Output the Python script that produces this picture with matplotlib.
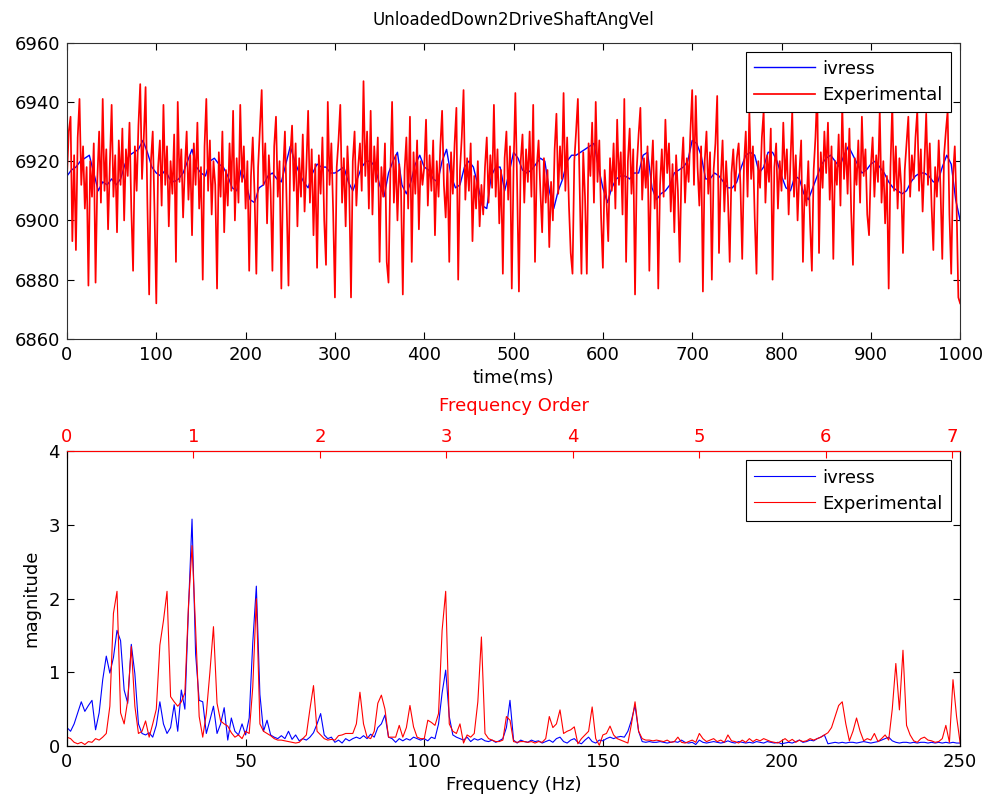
import matplotlib
matplotlib.use("Agg")
import matplotlib.pyplot as plt
import numpy as np

plt.rcParams["font.family"] = ["DejaVu Sans"]
plt.rcParams["font.size"] = 13

TITLE = "UnloadedDown2DriveShaftAngVel"

# time signal, experimental every 2 ms (0..1000 ms)
exp_step_ms = 2
exp_speed = [
    6915, 6930, 6935, 6893, 6922, 6890, 6928, 6941, 6912, 6925, 6904, 6918, 6878, 6920, 6908, 6926, 6879, 6914, 6930, 6906, 6941, 6910, 6924, 6897, 6919,
    6939, 6908, 6922, 6896, 6927, 6912, 6931, 6900, 6924, 6915, 6933, 6904, 6883, 6925, 6910, 6932, 6946, 6914, 6928, 6945, 6906, 6875, 6920, 6930, 6903,
    6872, 6918, 6927, 6905, 6939, 6912, 6925, 6898, 6920, 6909, 6929, 6886, 6940, 6913, 6924, 6901, 6918, 6930, 6907, 6922, 6895, 6926, 6912, 6933, 6904,
    6918, 6880, 6925, 6941, 6910, 6927, 6902, 6920, 6912, 6877, 6923, 6908, 6930, 6896, 6917, 6905, 6926, 6910, 6937, 6900, 6921, 6906, 6939, 6913, 6925,
    6904, 6920, 6883, 6915, 6928, 6909, 6882, 6918, 6931, 6944, 6912, 6926, 6899, 6922, 6910, 6883, 6925, 6935, 6908, 6920, 6877, 6916, 6930, 6905, 6878,
    6922, 6932, 6910, 6926, 6898, 6921, 6908, 6929, 6903, 6918, 6937, 6906, 6924, 6895, 6919, 6884, 6922, 6909, 6928, 6900, 6885, 6940, 6912, 6926, 6903,
    6874, 6918, 6927, 6939, 6906, 6921, 6898, 6925, 6911, 6874, 6920, 6930, 6905, 6918, 6926, 6910, 6947, 6915, 6930, 6904, 6937, 6902, 6925, 6913, 6928,
    6886, 6918, 6908, 6926, 6886, 6879, 6915, 6940, 6906, 6922, 6900, 6919, 6910, 6875, 6917, 6928, 6904, 6935, 6886, 6923, 6909, 6927, 6897, 6920, 6912,
    6918, 6934, 6905, 6922, 6910, 6927, 6895, 6920, 6908, 6925, 6937, 6912, 6901, 6919, 6886, 6923, 6909, 6926, 6938, 6880, 6917, 6928, 6944, 6907, 6921,
    6910, 6926, 6893, 6915, 6904, 6920, 6898, 6912, 6902, 6918, 6928, 6906, 6922, 6911, 6939, 6908, 6924, 6899, 6917, 6882, 6921, 6930, 6907, 6925, 6877,
    6918, 6943, 6912, 6876, 6920, 6929, 6906, 6924, 6913, 6930, 6908, 6939, 6886, 6918, 6927, 6910, 6896, 6921, 6906, 6917, 6891, 6913, 6900, 6924, 6936,
    6909, 6925, 6914, 6943, 6910, 6928, 6905, 6889, 6882, 6920, 6930, 6941, 6912, 6882, 6923, 6908, 6882, 6926, 6915, 6933, 6906, 6940, 6913, 6927, 6901,
    6884, 6917, 6907, 6893, 6921, 6910, 6926, 6904, 6934, 6912, 6923, 6902, 6941, 6886, 6920, 6931, 6909, 6924, 6875, 6918, 6929, 6938, 6907, 6921, 6911,
    6925, 6883, 6915, 6927, 6904, 6920, 6877, 6912, 6924, 6908, 6934, 6916, 6926, 6903, 6919, 6896, 6922, 6910, 6886, 6917, 6928, 6906, 6921, 6913, 6930,
    6944, 6912, 6942, 6918, 6905, 6925, 6876, 6920, 6930, 6909, 6923, 6880, 6917, 6926, 6942, 6889, 6914, 6927, 6903, 6920, 6908, 6886, 6916, 6924, 6910,
    6921, 6926, 6912, 6887, 6919, 6930, 6908, 6937, 6914, 6925, 6901, 6882, 6920, 6911, 6928, 6937, 6906, 6922, 6913, 6931, 6880, 6918, 6926, 6904, 6920,
    6910, 6933, 6914, 6924, 6902, 6919, 6937, 6908, 6922, 6900, 6916, 6927, 6886, 6912, 6905, 6920, 6899, 6883, 6917, 6928, 6944, 6889, 6923, 6911, 6930,
    6916, 6933, 6907, 6925, 6887, 6920, 6912, 6929, 6905, 6939, 6914, 6926, 6909, 6931, 6903, 6885, 6921, 6912, 6927, 6906, 6935, 6915, 6924, 6902, 6895,
    6918, 6928, 6908, 6922, 6913, 6937, 6906, 6920, 6899, 6915, 6877, 6918, 6939, 6910, 6925, 6904, 6921, 6912, 6889, 6917, 6926, 6935, 6908, 6922, 6914,
    6928, 6937, 6910, 6924, 6903, 6919, 6936, 6912, 6926, 6905, 6890, 6918, 6908, 6927, 6911, 6887, 6922, 6930, 6937, 6902, 6882, 6915, 6925, 6905, 6874,
    6872,
]

# simulated (ivress) every 5 ms
sim_step_ms = 5
sim_speed = [
    6915, 6917, 6918, 6920, 6921, 6922, 6916, 6910, 6913, 6912,
    6914, 6912, 6914, 6919, 6922, 6923, 6924, 6927, 6923, 6918,
    6916, 6915, 6917, 6914, 6913, 6914, 6916, 6920, 6924, 6918,
    6916, 6915, 6920, 6921, 6919, 6918, 6915, 6911, 6910, 6917,
    6913, 6907, 6906, 6911, 6912, 6915, 6916, 6914, 6913, 6919,
    6925, 6920, 6916, 6913, 6911, 6916, 6919, 6918, 6918, 6916,
    6916, 6917, 6918, 6913, 6910, 6914, 6918, 6920, 6920, 6918,
    6912, 6908, 6916, 6920, 6923, 6912, 6909, 6913, 6919, 6922,
    6918, 6917, 6914, 6913, 6920, 6924, 6915, 6911, 6912, 6918,
    6920, 6918, 6912, 6905, 6904, 6915, 6918, 6918, 6910, 6916,
    6923, 6921, 6917, 6916, 6917, 6919, 6921, 6920, 6910, 6904,
    6910, 6914, 6920, 6922, 6922, 6923, 6924, 6925, 6926, 6918,
    6911, 6906, 6911, 6914, 6915, 6915, 6914, 6916, 6916, 6922,
    6923, 6911, 6907, 6909, 6910, 6912, 6916, 6917, 6918, 6920,
    6927, 6926, 6922, 6914, 6914, 6916, 6915, 6913, 6911, 6911,
    6913, 6918, 6922, 6923, 6922, 6916, 6918, 6923, 6923, 6920,
    6915, 6911, 6910, 6915, 6914, 6909, 6907, 6911, 6915, 6919,
    6921, 6922, 6920, 6918, 6922, 6925, 6922, 6919, 6916, 6917,
    6919, 6920, 6918, 6916, 6913, 6911, 6910, 6909, 6910, 6913,
    6915, 6916, 6916, 6915, 6913, 6913, 6918, 6922, 6919, 6907,
    6900,
]

# spectra, 1 Hz bins 0..250 Hz
order_hz = 35.4  # Hz per engine order
sim_mag = [
    0.25, 0.2, 0.3, 0.45, 0.6, 0.47, 0.55, 0.62, 0.22, 0.45,
    0.9, 1.22, 0.99, 1.2, 1.57, 1.43, 0.76, 0.58, 1.38, 0.98,
    0.3, 0.17, 0.15, 0.18, 0.12, 0.28, 0.6, 0.3, 0.17, 0.25,
    0.56, 0.2, 0.76, 0.5, 1.86, 3.08, 1.25, 0.62, 0.6, 0.17,
    0.35, 0.54, 0.17, 0.3, 0.52, 0.08, 0.38, 0.2, 0.15, 0.3,
    0.15, 0.38, 1.4, 2.17, 0.7, 0.2, 0.35, 0.15, 0.12, 0.1,
    0.14, 0.1, 0.2, 0.09, 0.15, 0.07, 0.1, 0.08, 0.12, 0.18,
    0.3, 0.44, 0.15, 0.1, 0.12, 0.05, 0.08, 0.04, 0.1, 0.07,
    0.1, 0.12, 0.1, 0.14, 0.1, 0.16, 0.12, 0.25, 0.3, 0.42,
    0.12, 0.1, 0.05, 0.1, 0.07, 0.1, 0.08, 0.12, 0.1, 0.08,
    0.1, 0.07, 0.12, 0.1, 0.3, 0.72, 1.03, 0.4, 0.15, 0.12,
    0.1, 0.08, 0.12, 0.06, 0.1, 0.08, 0.1, 0.07, 0.06, 0.08,
    0.05, 0.07, 0.1, 0.25, 0.62, 0.08, 0.04, 0.08, 0.06, 0.05,
    0.08, 0.06, 0.07, 0.04, 0.06, 0.08, 0.05, 0.1, 0.12, 0.06,
    0.04, 0.08, 0.1, 0.05, 0.03, 0.08, 0.12, 0.06, 0.04, 0.08,
    0.07, 0.1, 0.12, 0.1, 0.12, 0.13, 0.12, 0.2, 0.35, 0.55,
    0.2, 0.06, 0.05, 0.06, 0.05, 0.05, 0.06, 0.05, 0.04, 0.05,
    0.06, 0.05, 0.08, 0.05, 0.04, 0.05, 0.02, 0.08, 0.05, 0.04,
    0.05, 0.06, 0.05, 0.04, 0.05, 0.07, 0.05, 0.04, 0.06, 0.05,
    0.04, 0.05, 0.04, 0.06, 0.05, 0.04, 0.06, 0.05, 0.04, 0.05,
    0.03, 0.04, 0.05, 0.04, 0.06, 0.08, 0.05, 0.06, 0.08, 0.07,
    0.1, 0.12, 0.15, 0.03, 0.04, 0.05, 0.04, 0.05, 0.04, 0.05,
    0.05, 0.04, 0.05, 0.06, 0.05, 0.04, 0.05, 0.06, 0.08, 0.1,
    0.12, 0.07, 0.05, 0.04, 0.05, 0.05, 0.04, 0.05, 0.04, 0.05,
    0.05, 0.04, 0.05, 0.04, 0.05, 0.04, 0.05, 0.04, 0.05, 0.04,
    0.04,
]
exp_mag = [
    0.12, 0.1, 0.05, 0.03, 0.05, 0.02, 0.06, 0.05, 0.1, 0.08,
    0.12, 0.17, 0.54, 1.8, 2.1, 0.45, 0.3, 0.62, 1.35, 0.54,
    0.17, 0.2, 0.34, 0.12, 0.3, 0.5, 1.37, 1.7, 2.1, 0.67,
    0.6, 0.54, 0.6, 0.72, 1.9, 2.72, 1.6, 0.4, 0.12, 0.44,
    1.0, 1.62, 0.58, 0.34, 0.3, 0.27, 0.18, 0.12, 0.15, 0.1,
    0.2, 0.17, 0.8, 2.0, 0.3, 0.2, 0.17, 0.14, 0.1, 0.08,
    0.08, 0.07, 0.06, 0.05, 0.04, 0.05, 0.1, 0.15, 0.5, 0.82,
    0.2, 0.15, 0.1, 0.08, 0.09, 0.08, 0.14, 0.15, 0.17, 0.17,
    0.17, 0.3, 0.73, 0.3, 0.12, 0.1, 0.2, 0.58, 0.69, 0.5,
    0.12, 0.12, 0.12, 0.28, 0.12, 0.25, 0.55, 0.26, 0.12, 0.1,
    0.1, 0.35, 0.32, 0.28, 0.44, 1.57, 2.1, 0.3, 0.2, 0.17,
    0.3, 0.04, 0.15, 0.12, 0.17, 0.6, 1.48, 0.17, 0.1, 0.08,
    0.06, 0.06, 0.08, 0.4, 0.35, 0.06, 0.05, 0.06, 0.06, 0.05,
    0.06, 0.04, 0.06, 0.05, 0.1, 0.4, 0.25, 0.3, 0.49, 0.17,
    0.2, 0.22, 0.26, 0.03, 0.1, 0.15, 0.2, 0.53, 0.1, 0.01,
    0.15, 0.17, 0.27, 0.15, 0.1, 0.08, 0.06, 0.04, 0.3, 0.6,
    0.2, 0.1, 0.08, 0.08, 0.07, 0.08, 0.07, 0.06, 0.08, 0.05,
    0.06, 0.12, 0.05, 0.04, 0.06, 0.08, 0.05, 0.17, 0.1, 0.06,
    0.08, 0.1, 0.06, 0.08, 0.05, 0.15, 0.07, 0.06, 0.04, 0.08,
    0.05, 0.1, 0.06, 0.09, 0.07, 0.1, 0.08, 0.06, 0.05, 0.04,
    0.07, 0.1, 0.06, 0.09, 0.05, 0.08, 0.06, 0.07, 0.1, 0.08,
    0.1, 0.12, 0.15, 0.18, 0.25, 0.4, 0.55, 0.6, 0.3, 0.07,
    0.2, 0.38, 0.2, 0.07, 0.1, 0.08, 0.17, 0.06, 0.1, 0.15,
    0.08, 0.5, 1.12, 0.49, 1.3, 0.28, 0.15, 0.07, 0.05, 0.1,
    0.12, 0.08, 0.07, 0.05, 0.06, 0.1, 0.28, 0.05, 0.9, 0.4,
    0.04,
]


def style_axes(ax):
    ax.tick_params(direction="in", length=5, width=0.8, top=True, right=True,
                   labelsize=13, pad=5)
    for sp in ax.spines.values():
        sp.set_linewidth(0.8)
        sp.set_color("#303030")


def add_legend(ax):
    leg = ax.legend(loc="upper right", fontsize=13, handlelength=3.4, handletextpad=0.4,
                    fancybox=False, framealpha=1, edgecolor="black",
                    borderaxespad=0.5, borderpad=0.45, labelspacing=0.45)
    leg.get_frame().set_linewidth(0.8)
    return leg


fig = plt.figure(figsize=(9.88, 8.05), dpi=100)

# time domain
ax1 = fig.add_axes([0.0678, 0.579, 0.904, 0.368])
t_exp = np.arange(len(exp_speed)) * exp_step_ms
t_sim = np.arange(len(sim_speed)) * sim_step_ms
ax1.plot(t_sim, sim_speed, color="#0000ff", lw=1.0, label="ivress")
ax1.plot(t_exp, exp_speed, color="#ff0000", lw=1.25, label="Experimental")
ax1.set_xlim(0, 1000)
ax1.set_ylim(6860, 6960)
ax1.set_xticks(np.arange(0, 1001, 100))
ax1.set_yticks(np.arange(6860, 6961, 20))
ax1.set_xlabel("time(ms)", labelpad=4)
ax1.set_title(TITLE, fontsize=12, pad=13)
style_axes(ax1)
add_legend(ax1)

# frequency domain
ax2 = fig.add_axes([0.0678, 0.0733, 0.904, 0.366])
freq = np.arange(len(sim_mag))
ax2.plot(freq, sim_mag, color="#0000ff", lw=0.8, label="ivress")
ax2.plot(freq, exp_mag, color="#ff0000", lw=0.8, label="Experimental")
ax2.set_xlim(0, 250)
ax2.set_ylim(0, 4)
ax2.set_xticks(np.arange(0, 251, 50))
ax2.set_yticks(np.arange(0, 5, 1))
ax2.set_xlabel("Frequency (Hz)", labelpad=4)
ax2.set_ylabel("magnitude", labelpad=6)
style_axes(ax2)
add_legend(ax2)

ax3 = ax2.twiny()
ax3.set_xlim(0, 250 / order_hz)
ax3.set_xticks(np.arange(0, 8, 1))
ax3.tick_params(axis="x", direction="in", length=5, width=0.8, colors="red",
                labelsize=13, pad=4)
ax3.spines["top"].set_color("red")
ax3.spines["top"].set_linewidth(0.8)
ax3.set_xlabel("Frequency Order", color="red", labelpad=12)

fig.savefig("out.png", dpi=100)
